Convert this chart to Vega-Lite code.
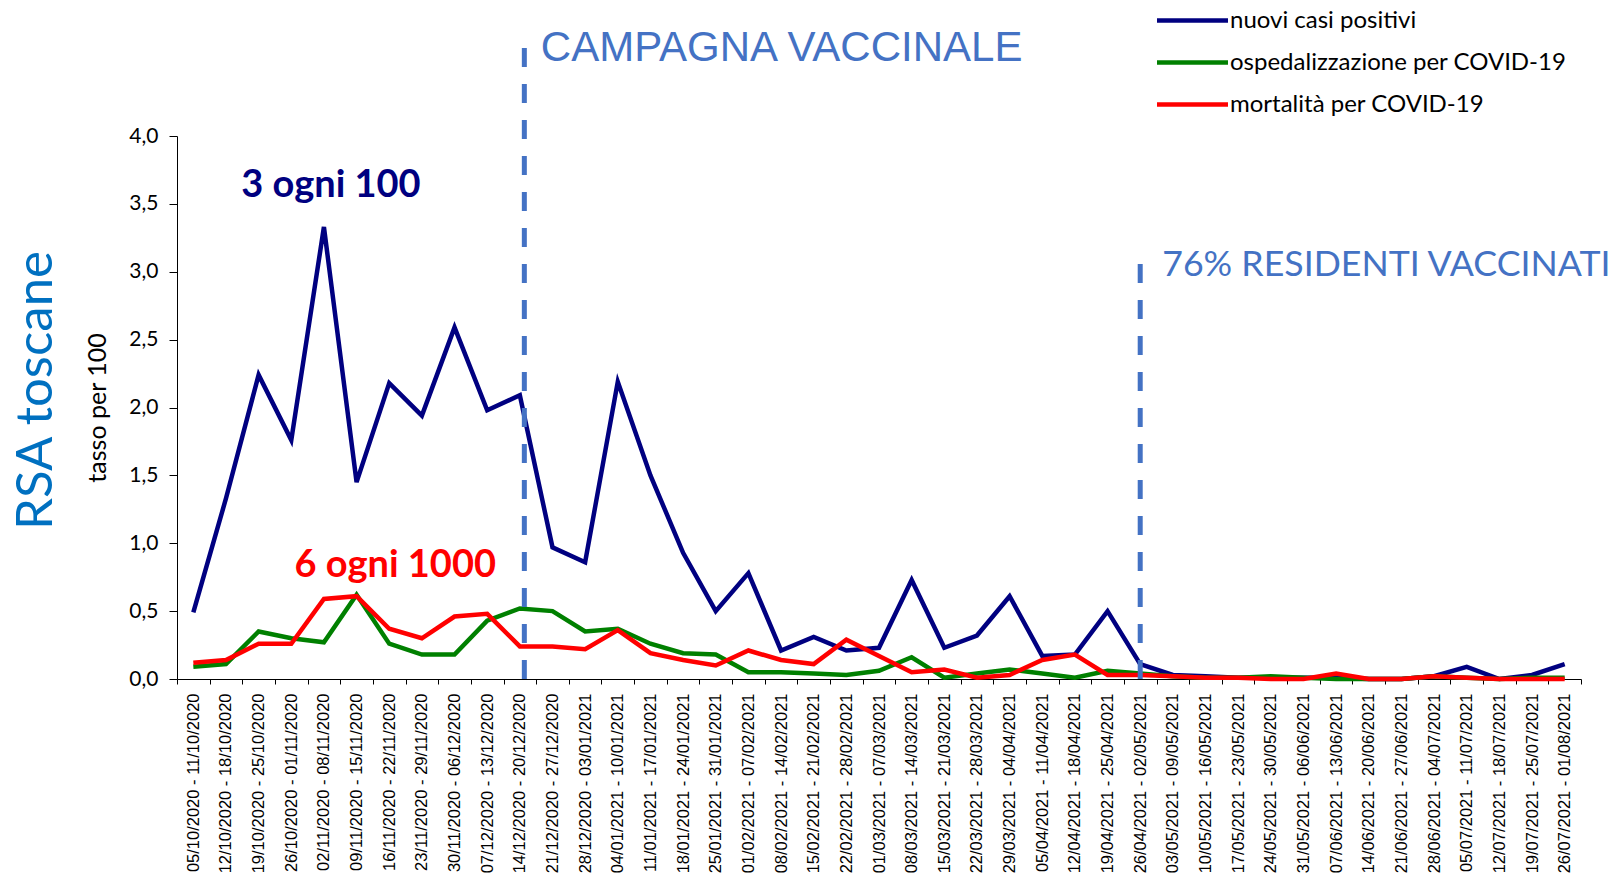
{
  "$schema": "https://vega.github.io/schema/vega-lite/v6.json",
  "autosize": "none",
  "padding": {"left": 177, "top": 136, "right": 30, "bottom": 202},
  "width": 1404,
  "height": 543,
  "background": "white",
  "config": {
    "view": {"stroke": null},
    "axis": {"domainColor": "black", "tickColor": "black", "labelColor": "black", "grid": false}
  },
  "title": {
    "text": "RSA toscane",
    "orient": "left",
    "anchor": "middle",
    "font": "Lato",
    "fontSize": 51,
    "fontWeight": "normal",
    "color": "#0070C0",
    "offset": 23,
    "dx": 17
  },
  "datasets": {
    "tassi": [
      {"settimana": "05/10/2020 - 11/10/2020", "casi": 0.49, "osp": 0.09, "mort": 0.12},
      {"settimana": "12/10/2020 - 18/10/2020", "casi": 1.33, "osp": 0.11, "mort": 0.14},
      {"settimana": "19/10/2020 - 25/10/2020", "casi": 2.24, "osp": 0.35, "mort": 0.26},
      {"settimana": "26/10/2020 - 01/11/2020", "casi": 1.76, "osp": 0.30, "mort": 0.26},
      {"settimana": "02/11/2020 - 08/11/2020", "casi": 3.33, "osp": 0.27, "mort": 0.59},
      {"settimana": "09/11/2020 - 15/11/2020", "casi": 1.45, "osp": 0.62, "mort": 0.61},
      {"settimana": "16/11/2020 - 22/11/2020", "casi": 2.18, "osp": 0.26, "mort": 0.37},
      {"settimana": "23/11/2020 - 29/11/2020", "casi": 1.94, "osp": 0.18, "mort": 0.30},
      {"settimana": "30/11/2020 - 06/12/2020", "casi": 2.59, "osp": 0.18, "mort": 0.46},
      {"settimana": "07/12/2020 - 13/12/2020", "casi": 1.98, "osp": 0.43, "mort": 0.48},
      {"settimana": "14/12/2020 - 20/12/2020", "casi": 2.09, "osp": 0.52, "mort": 0.24},
      {"settimana": "21/12/2020 - 27/12/2020", "casi": 0.97, "osp": 0.50, "mort": 0.24},
      {"settimana": "28/12/2020 - 03/01/2021", "casi": 0.86, "osp": 0.35, "mort": 0.22},
      {"settimana": "04/01/2021 - 10/01/2021", "casi": 2.19, "osp": 0.37, "mort": 0.36},
      {"settimana": "11/01/2021 - 17/01/2021", "casi": 1.50, "osp": 0.26, "mort": 0.19},
      {"settimana": "18/01/2021 - 24/01/2021", "casi": 0.93, "osp": 0.19, "mort": 0.14},
      {"settimana": "25/01/2021 - 31/01/2021", "casi": 0.50, "osp": 0.18, "mort": 0.10},
      {"settimana": "01/02/2021 - 07/02/2021", "casi": 0.78, "osp": 0.05, "mort": 0.21},
      {"settimana": "08/02/2021 - 14/02/2021", "casi": 0.21, "osp": 0.05, "mort": 0.14},
      {"settimana": "15/02/2021 - 21/02/2021", "casi": 0.31, "osp": 0.04, "mort": 0.11},
      {"settimana": "22/02/2021 - 28/02/2021", "casi": 0.21, "osp": 0.03, "mort": 0.29},
      {"settimana": "01/03/2021 - 07/03/2021", "casi": 0.23, "osp": 0.06, "mort": 0.17},
      {"settimana": "08/03/2021 - 14/03/2021", "casi": 0.73, "osp": 0.16, "mort": 0.05},
      {"settimana": "15/03/2021 - 21/03/2021", "casi": 0.23, "osp": 0.01, "mort": 0.07},
      {"settimana": "22/03/2021 - 28/03/2021", "casi": 0.32, "osp": 0.04, "mort": 0.01},
      {"settimana": "29/03/2021 - 04/04/2021", "casi": 0.61, "osp": 0.07, "mort": 0.03},
      {"settimana": "05/04/2021 - 11/04/2021", "casi": 0.17, "osp": 0.04, "mort": 0.14},
      {"settimana": "12/04/2021 - 18/04/2021", "casi": 0.18, "osp": 0.01, "mort": 0.18},
      {"settimana": "19/04/2021 - 25/04/2021", "casi": 0.50, "osp": 0.06, "mort": 0.03},
      {"settimana": "26/04/2021 - 02/05/2021", "casi": 0.11, "osp": 0.04, "mort": 0.03},
      {"settimana": "03/05/2021 - 09/05/2021", "casi": 0.03, "osp": 0.02, "mort": 0.02},
      {"settimana": "10/05/2021 - 16/05/2021", "casi": 0.02, "osp": 0.01, "mort": 0.01},
      {"settimana": "17/05/2021 - 23/05/2021", "casi": 0.01, "osp": 0.01, "mort": 0.01},
      {"settimana": "24/05/2021 - 30/05/2021", "casi": 0.01, "osp": 0.02, "mort": 0.00},
      {"settimana": "31/05/2021 - 06/06/2021", "casi": 0.01, "osp": 0.01, "mort": 0.00},
      {"settimana": "07/06/2021 - 13/06/2021", "casi": 0.01, "osp": 0.00, "mort": 0.04},
      {"settimana": "14/06/2021 - 20/06/2021", "casi": 0.00, "osp": 0.00, "mort": 0.00},
      {"settimana": "21/06/2021 - 27/06/2021", "casi": 0.00, "osp": 0.00, "mort": 0.00},
      {"settimana": "28/06/2021 - 04/07/2021", "casi": 0.02, "osp": 0.02, "mort": 0.02},
      {"settimana": "05/07/2021 - 11/07/2021", "casi": 0.09, "osp": 0.01, "mort": 0.01},
      {"settimana": "12/07/2021 - 18/07/2021", "casi": 0.00, "osp": 0.00, "mort": 0.00},
      {"settimana": "19/07/2021 - 25/07/2021", "casi": 0.03, "osp": 0.01, "mort": 0.00},
      {"settimana": "26/07/2021 - 01/08/2021", "casi": 0.11, "osp": 0.01, "mort": 0.00}
    ]
  },
  "layer": [
    {
      "data": {"name": "tassi"},
      "mark": {"type": "line", "strokeWidth": 4.5},
      "encoding": {
        "x": {
          "field": "settimana",
          "type": "nominal",
          "scale": {
            "type": "band",
            "paddingInner": 0,
            "paddingOuter": 0,
            "domain": [
              "05/10/2020 - 11/10/2020", "12/10/2020 - 18/10/2020", "19/10/2020 - 25/10/2020", "26/10/2020 - 01/11/2020",
              "02/11/2020 - 08/11/2020", "09/11/2020 - 15/11/2020", "16/11/2020 - 22/11/2020", "23/11/2020 - 29/11/2020",
              "30/11/2020 - 06/12/2020", "07/12/2020 - 13/12/2020", "14/12/2020 - 20/12/2020", "21/12/2020 - 27/12/2020",
              "28/12/2020 - 03/01/2021", "04/01/2021 - 10/01/2021", "11/01/2021 - 17/01/2021", "18/01/2021 - 24/01/2021",
              "25/01/2021 - 31/01/2021", "01/02/2021 - 07/02/2021", "08/02/2021 - 14/02/2021", "15/02/2021 - 21/02/2021",
              "22/02/2021 - 28/02/2021", "01/03/2021 - 07/03/2021", "08/03/2021 - 14/03/2021", "15/03/2021 - 21/03/2021",
              "22/03/2021 - 28/03/2021", "29/03/2021 - 04/04/2021", "05/04/2021 - 11/04/2021", "12/04/2021 - 18/04/2021",
              "19/04/2021 - 25/04/2021", "26/04/2021 - 02/05/2021", "03/05/2021 - 09/05/2021", "10/05/2021 - 16/05/2021",
              "17/05/2021 - 23/05/2021", "24/05/2021 - 30/05/2021", "31/05/2021 - 06/06/2021", "07/06/2021 - 13/06/2021",
              "14/06/2021 - 20/06/2021", "21/06/2021 - 27/06/2021", "28/06/2021 - 04/07/2021", "05/07/2021 - 11/07/2021",
              "12/07/2021 - 18/07/2021", "19/07/2021 - 25/07/2021", "26/07/2021 - 01/08/2021"
            ]
          },
          "axis": {
            "title": null,
            "labelAngle": -90,
            "labelFont": "Liberation Sans",
            "labelFontSize": 16.5,
            "labelPadding": 9,
            "labelLimit": 400,
            "tickSize": 5,
            "tickBand": "extent",
            "labelOverlap": false
          }
        },
        "y": {
          "field": "casi",
          "type": "quantitative",
          "scale": {"domain": [0, 4], "nice": false},
          "axis": {
            "title": "tasso per 100",
            "titleFont": "Lato",
            "titleFontSize": 25,
            "titleFontWeight": "normal",
            "titleColor": "black",
            "titlePadding": 18,
            "values": [0, 0.5, 1, 1.5, 2, 2.5, 3, 3.5, 4],
            "labelExpr": "replace(format(datum.value, '.1f'), '.', ',')",
            "labelFont": "Lato",
            "labelFontSize": 21,
            "tickSize": 8,
            "labelPadding": 11
          }
        },
        "color": {
          "datum": "nuovi casi positivi",
          "type": "nominal",
          "scale": {
            "domain": ["nuovi casi positivi", "ospedalizzazione per COVID-19", "mortalità per COVID-19"],
            "range": ["#000080", "#008000", "#FF0000"]
          },
          "legend": {
            "title": null,
            "orient": "none",
            "legendX": 1001,
            "legendY": -130,
            "padding": 0,
            "symbolType": "M-3,0H3",
            "symbolSize": 560,
            "symbolStrokeWidth": 4.5,
            "labelFont": "Lato",
            "labelFontSize": 24,
            "labelColor": "black",
            "labelLimit": 600,
            "labelOffset": 23,
            "rowPadding": 15
          }
        }
      }
    },
    {
      "data": {"name": "tassi"},
      "mark": {"type": "line", "strokeWidth": 4.5},
      "encoding": {
        "x": {"field": "settimana", "type": "nominal"},
        "y": {"field": "osp", "type": "quantitative"},
        "color": {"datum": "ospedalizzazione per COVID-19", "type": "nominal"}
      }
    },
    {
      "data": {"name": "tassi"},
      "mark": {"type": "line", "strokeWidth": 4.5},
      "encoding": {
        "x": {"field": "settimana", "type": "nominal"},
        "y": {"field": "mort", "type": "quantitative"},
        "color": {"datum": "mortalità per COVID-19", "type": "nominal"}
      }
    },
    {
      "data": {"values": [{"settimana": "14/12/2020 - 20/12/2020", "y0": 0, "y1": 4.77}]},
      "mark": {"type": "rule", "color": "#4472C4", "strokeWidth": 5, "strokeDash": [19, 17], "xOffset": 4.5},
      "encoding": {
        "x": {"field": "settimana", "type": "nominal"},
        "y": {"field": "y0", "type": "quantitative"},
        "y2": {"field": "y1"}
      }
    },
    {
      "data": {"values": [{"settimana": "26/04/2021 - 02/05/2021", "y0": 0, "y1": 3.17}]},
      "mark": {"type": "rule", "color": "#4472C4", "strokeWidth": 5, "strokeDash": [19, 17]},
      "encoding": {
        "x": {"field": "settimana", "type": "nominal"},
        "y": {"field": "y0", "type": "quantitative"},
        "y2": {"field": "y1"}
      }
    },
    {
      "data": {"values": [{"settimana": "14/12/2020 - 20/12/2020", "v": 4.555, "t": "CAMPAGNA VACCINALE"}]},
      "mark": {"type": "text", "font": "Liberation Sans", "fontSize": 42, "color": "#4472C4", "align": "left", "baseline": "alphabetic", "dx": 21},
      "encoding": {
        "x": {"field": "settimana", "type": "nominal"},
        "y": {"field": "v", "type": "quantitative"},
        "text": {"field": "t"}
      }
    },
    {
      "data": {"values": [{"settimana": "26/04/2021 - 02/05/2021", "v": 2.971, "t": "76% RESIDENTI VACCINATI"}]},
      "mark": {"type": "text", "font": "Lato", "fontSize": 35.7, "color": "#4472C4", "align": "left", "baseline": "alphabetic", "dx": 22},
      "encoding": {
        "x": {"field": "settimana", "type": "nominal"},
        "y": {"field": "v", "type": "quantitative"},
        "text": {"field": "t"}
      }
    },
    {
      "data": {"values": [{"settimana": "02/11/2020 - 08/11/2020", "v": 3.553, "t": "3 ogni 100"}]},
      "mark": {"type": "text", "font": "Lato", "fontSize": 38, "fontWeight": "bold", "color": "#000080", "align": "center", "baseline": "alphabetic", "dx": 7},
      "encoding": {
        "x": {"field": "settimana", "type": "nominal"},
        "y": {"field": "v", "type": "quantitative"},
        "text": {"field": "t"}
      }
    },
    {
      "data": {"values": [{"settimana": "16/11/2020 - 22/11/2020", "v": 0.754, "t": "6 ogni 1000"}]},
      "mark": {"type": "text", "font": "Lato", "fontSize": 38, "fontWeight": "bold", "color": "#FF0000", "align": "center", "baseline": "alphabetic", "dx": 6},
      "encoding": {
        "x": {"field": "settimana", "type": "nominal"},
        "y": {"field": "v", "type": "quantitative"},
        "text": {"field": "t"}
      }
    }
  ]
}
